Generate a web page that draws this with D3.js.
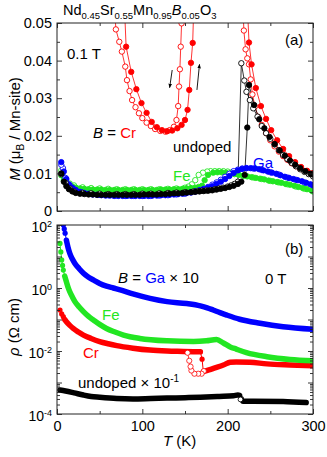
<!DOCTYPE html>
<html>
<head>
<meta charset="utf-8">
<script src="https://cdn.jsdelivr.net/npm/d3@7/dist/d3.min.js"></script>
<style>
body{margin:0;background:#fff;}
svg text{font-family:"Liberation Sans",Arial,Helvetica,sans-serif;}
</style>
</head>
<body>
<div id="canvas"></div>
<script>
var RED = '#ff0000', GREEN = '#22e622', BLUE = '#0000ff', BLACK = '#000000';

// ---- panel (a): M (muB / Mn-site) vs T (K) at 0.1 T, rows are [T, M]
// values at 0.06 mean the curve runs off the top of the axis
var crCool = [[300,0.0096],[295,0.0101],[290,0.0106],[285,0.0112],[280,0.0119],[275,0.0127],[270,0.0136],
  [265,0.0146],[260,0.0158],[255,0.0172],[250,0.0188],[245,0.0207],[240,0.0229],[236,0.025],[232,0.0278],
  [229,0.031],[227,0.035],[225,0.039],[223,0.0406],[221,0.043],[219,0.048],[217,0.06],
  [147,0.06],[146,0.0499],[145,0.0437],[144,0.0377],[143,0.0331],[142,0.0279],[140,0.0242],[137,0.0224],
  [132,0.0215],[127,0.0211],[121,0.0213],[115,0.0218],[110,0.0226],[105,0.0235],[100,0.0247],[96,0.026],
  [92,0.0276],[88,0.0295],[85,0.0319],[82,0.0348],[80,0.0384],[76,0.0424],[73,0.045],[69,0.0483],[66,0.06]];
var crWarm = [[78,0.06],[81,0.0437],[87,0.037],[93,0.0324],[99,0.0287],[105,0.0261],[111,0.0237],[117,0.0223],
  [123,0.0215],[129,0.0212],[135,0.0214],[141,0.022],[146,0.0229],[150,0.0242],[153,0.0269],[155,0.0322],
  [157,0.0394],[159,0.0447],[161,0.06],
  [222,0.06],[225,0.0448],[228,0.039],[233,0.0327],[239,0.0279],[245,0.0245],[251,0.0215],[258,0.0188],
  [265,0.0165],[272,0.0146],[279,0.013],[286,0.0117],[293,0.0107],[300,0.0101]];
var undopedCool = [[300,0.0092],[295,0.0098],[290,0.0104],[285,0.0111],[280,0.0119],[275,0.0128],[270,0.0138],
  [265,0.0149],[260,0.0162],[255,0.0177],[250,0.0192],[245,0.0207],[240,0.0226],[235,0.0251],[230,0.0273],
  [226,0.0295],[222,0.0317],[219.5,0.0347],[216,0.0393],[212,0.0078],[208,0.0072],[204,0.0068],[200,0.0065],
  [195,0.0062],[190,0.006],[185,0.0058],[180,0.0056],[175,0.0055],[170,0.0054],[165,0.0053],[160,0.0052],
  [150,0.005],[140,0.0049],[130,0.0048],[120,0.0047],[110,0.0046],[100,0.0046],[90,0.0045],[80,0.0045],
  [70,0.0045],[60,0.0045],[50,0.0046],[40,0.0047],[30,0.0048],[20,0.0052],[15,0.006],[10,0.0075],[5,0.0098]];
var undopedWarm = [[5,0.01],[8,0.0078],[11,0.0066],[14,0.0058],[18,0.0052],[22,0.0048],[27,0.0046],[32,0.0045],
  [37,0.0044],[42,0.0044],[47,0.0043],[52,0.0043],[57,0.0043],[62,0.0043],[67,0.0043],[72,0.0043],[77,0.0043],
  [82,0.0043],[87,0.0043],[92,0.0043],[97,0.0043],[102,0.0044],[107,0.0044],[112,0.0044],[117,0.0044],
  [122,0.0045],[127,0.0045],[132,0.0046],[137,0.0047],[142,0.0047],[147,0.0048],[152,0.0049],[157,0.005],
  [162,0.0051],[167,0.0052],[172,0.0053],[177,0.0054],[182,0.0055],[187,0.0057],[192,0.0059],[197,0.0061],
  [202,0.0064],[207,0.0067],[212,0.0072],[216,0.0078],[220,0.0096],[223,0.0222],[225,0.0335],[231,0.0282],
  [237,0.0244],[243,0.022],[249,0.0197],[255,0.0178],[261,0.0161],[267,0.0147],[273,0.0134],[279,0.0123],
  [285,0.0114],[291,0.0106],[297,0.0099],[300,0.0097]];
var gaCool = [[300,0.0068],[290,0.0076],[280,0.0083],[270,0.0089],[260,0.0097],[250,0.0103],[240,0.0109],
  [230,0.0113],[222,0.0114],[217,0.0113],[212,0.011],[207,0.0106],[202,0.0099],[197,0.0091],[192,0.0083],
  [187,0.0076],[182,0.007],[177,0.0064],[172,0.0059],[167,0.0055],[162,0.0052],[157,0.0049],[150,0.0046],
  [140,0.0044],[130,0.0042],[120,0.0041],[110,0.004],[100,0.004],[90,0.004],[80,0.004],[70,0.0041],
  [60,0.0042],[50,0.0043],[40,0.0045],[30,0.0049],[20,0.0058],[15,0.0068],[10,0.0088],[7,0.0114],[5,0.0123]];
var gaWarm = [[5,0.013],[8,0.0105],[11,0.0085],[14,0.0071],[18,0.0062],[22,0.0056],[27,0.0051],[32,0.0048],
  [37,0.0046],[42,0.0044],[47,0.0043],[52,0.0042],[57,0.0041],[62,0.0041],[67,0.004],[72,0.004],[77,0.004],
  [82,0.004],[87,0.004],[92,0.004],[97,0.004],[102,0.004],[107,0.004],[112,0.0041],[117,0.0041],[122,0.0042],
  [127,0.0042],[132,0.0043],[137,0.0044],[142,0.0045],[147,0.0046],[152,0.0048],[157,0.005],[162,0.0052],
  [167,0.0055],[172,0.0058],[177,0.0062],[182,0.0066],[187,0.0072],[192,0.0078],[197,0.0085],[202,0.0093],
  [207,0.0101],[212,0.0108],[217,0.0112],[222,0.0114],[227,0.0114],[232,0.0113],[237,0.0111],[242,0.0108],
  [247,0.0105],[252,0.0102],[257,0.0099],[262,0.0095],[267,0.0091],[272,0.0088],[277,0.0085],[282,0.0082],
  [287,0.0079],[292,0.0075],[297,0.0071],[300,0.0069]];
var feCool = [[300,0.0052],[290,0.0059],[280,0.0065],[270,0.0071],[260,0.0076],[250,0.008],[240,0.0085],
  [230,0.0089],[220,0.0094],[212,0.0099],[205,0.0103],[200,0.0105],[195,0.0106],[190,0.0106],[185,0.0106],
  [180,0.0106],[176,0.0105],[171,0.0102],[166,0.0096],[162,0.0082],[158,0.0071],[154,0.0065],[150,0.0062],
  [140,0.006],[130,0.0059],[120,0.0058],[110,0.0058],[100,0.0058],[90,0.0058],[80,0.0058],[70,0.0058],
  [60,0.0059],[50,0.006],[40,0.0061],[30,0.0063],[20,0.0068],[15,0.0073],[10,0.0083],[5,0.0108]];
var feWarm = [[5,0.0095],[8,0.0082],[11,0.0074],[14,0.0069],[18,0.0065],[22,0.0062],[27,0.006],[32,0.0059],
  [37,0.0058],[42,0.0057],[47,0.0057],[52,0.0057],[57,0.0056],[62,0.0056],[67,0.0056],[72,0.0056],[77,0.0056],
  [82,0.0056],[87,0.0056],[92,0.0056],[97,0.0056],[102,0.0056],[107,0.0056],[112,0.0056],[117,0.0056],
  [122,0.0057],[127,0.0057],[132,0.0057],[137,0.0058],[142,0.0058],[147,0.0059],[152,0.006],[157,0.0061],
  [162,0.0062],[166,0.0064],[170,0.0067],[173,0.0082],[177,0.0096],[183,0.0102],[188,0.0103],[193,0.0103],
  [198,0.0102],[203,0.01],[208,0.0098],[213,0.0096],[218,0.0094],[223,0.0092],[228,0.009],[233,0.0088],
  [238,0.0086],[243,0.0084],[248,0.0081],[253,0.0079],[258,0.0077],[263,0.0075],[268,0.0072],[273,0.007],
  [278,0.0067],[283,0.0064],[288,0.0061],[293,0.0058],[298,0.0055],[300,0.0053]];
// hysteresis arrows, [T, M] start and end
var arrowCool = [[135,0.0375],[132,0.0328]];
var arrowWarm = [[164,0.0322],[167,0.0390]];

// ---- panel (b): rho (Ohm cm) vs T (K) at 0 T, rows are [T, rho] as plotted
var gaRho = [[7.5,100],[8.5,75],[9.5,55],[11,33],[13,19],[15,12.6],[18,8.3],[21,6.0],[26,4.1],[31,2.95],[37,2.2],
  [43,1.78],[50,1.4],[58,1.15],[66,1.0],[74,0.87],[89,0.65],[109,0.47],[129,0.37],[152,0.32],[168,0.27],
  [176,0.235],[183,0.2],[191,0.165],[199,0.138],[214,0.102],[238,0.076],[265,0.059],[300,0.049]];
var feRho = [[3.5,26],[4.5,14],[5.5,7.8],[6.5,5.2],[7.4,3.7],[9,2.4],[11,1.58],[13,1.05],[15,0.76],[18,0.52],
  [21,0.37],[26,0.25],[31,0.178],[37,0.125],[43,0.095],[50,0.07],[58,0.052],[68,0.04],[78,0.032],[97,0.025],
  [129,0.021],[160,0.02],[175,0.021],[187,0.023],[195,0.018],[203,0.0135],[210,0.0115],[222,0.0089],
  [246,0.0066],[273,0.0054],[300,0.0049]];
var crRho = [[3.5,0.2],[5.5,0.15],[7.4,0.123],[9,0.1],[11,0.085],[15,0.065],[19,0.052],[25,0.04],[31,0.032],
  [40,0.025],[50,0.02],[60,0.017],[70,0.0148],[89,0.0123],[109,0.0107],[129,0.01],[148,0.0097],[160,0.0095],
  [168,0.0094],[170,0.0055],[171.5,0.0022],[178,0.0025],[185,0.0029],[195,0.0036],[203,0.0044],[210,0.0045],
  [226,0.0044],[246,0.0039],[273,0.0036],[300,0.0034]];
var crRhoCool = [[172,0.0023],[169.5,0.0019],[165.5,0.0019],[161,0.0019],[157.5,0.0024],[156.5,0.0032],
  [155,0.0049],[153,0.0088]];
var undopedRho = [[3.5,0.00058],[10,0.00054],[20,0.00047],[31,0.0004],[40,0.00036],[50,0.00034],[70,0.00031],
  [89,0.0003],[110,0.00031],[129,0.00032],[150,0.00033],[168,0.00034],[190,0.00036],[207,0.00038],
  [212,0.0004],[214,0.00039],[216,0.00031],[218,0.000255],[230,0.000255],[265,0.000248],[292,0.00023]];
var undopedRhoOpen = [[215,0.00029]];

var tempTicks = [0,100,200,300], tempMinor = [50,150,250];
var mTicks = [0,0.01,0.02,0.03,0.04,0.05], mMinor = [0.005,0.015,0.025,0.035,0.045];
var rhoDecades = [-4,-3,-2,-1,0,1,2], rhoLabelled = [-4,-2,0,2];

var W = 327, H = 457;
var svg = d3.select('#canvas').append('svg').attr('width',W).attr('height',H);

var x = d3.scaleLinear().domain([0,300]).range([57,313]);
var yA = d3.scaleLinear().domain([0,0.05]).range([211,23]);
var yB = d3.scaleLog().domain([1e-4,1e2]).range([414,225]);

var rhoMinor = [];
rhoDecades.slice(0,-1).forEach(function(e){
  for (var k = 2; k < 10; k++) rhoMinor.push(k*Math.pow(10,e));
});

function blank(){ return ''; }

function styleAxis(g){
  g.attr('font-family',null).attr('font-size',14.5);
  g.select('.domain').remove();
  g.selectAll('.tick line').attr('stroke','#222').attr('stroke-width',0.9);
  g.selectAll('.tick text').attr('fill','#000');
}

function frame(y, majorY, minorY, fmtY, showX){
  var top = y.range()[1], bottom = y.range()[0];
  var g = svg.append('g');
  g.append('g').attr('transform','translate(0,'+bottom+')')
    .call(d3.axisBottom(x).tickValues(tempTicks).tickSizeInner(-5).tickSizeOuter(0).tickPadding(6.5)
      .tickFormat(showX ? d3.format('d') : blank)).call(styleAxis);
  g.append('g').attr('transform','translate(0,'+bottom+')')
    .call(d3.axisBottom(x).tickValues(tempMinor).tickSizeInner(-3).tickSizeOuter(0).tickFormat(blank)).call(styleAxis);
  g.append('g').attr('transform','translate(0,'+top+')')
    .call(d3.axisTop(x).tickValues(tempTicks).tickSizeInner(-5).tickSizeOuter(0).tickFormat(blank)).call(styleAxis);
  g.append('g').attr('transform','translate(0,'+top+')')
    .call(d3.axisTop(x).tickValues(tempMinor).tickSizeInner(-3).tickSizeOuter(0).tickFormat(blank)).call(styleAxis);
  g.append('g').attr('transform','translate(57,0)')
    .call(d3.axisLeft(y).tickValues(majorY).tickSizeInner(-5).tickSizeOuter(0).tickPadding(5).tickFormat(fmtY)).call(styleAxis);
  g.append('g').attr('transform','translate(57,0)')
    .call(d3.axisLeft(y).tickValues(minorY).tickSizeInner(-3).tickSizeOuter(0).tickFormat(blank)).call(styleAxis);
  g.append('g').attr('transform','translate(313,0)')
    .call(d3.axisRight(y).tickValues(majorY).tickSizeInner(-5).tickSizeOuter(0).tickFormat(blank)).call(styleAxis);
  g.append('g').attr('transform','translate(313,0)')
    .call(d3.axisRight(y).tickValues(minorY).tickSizeInner(-3).tickSizeOuter(0).tickFormat(blank)).call(styleAxis);
  svg.append('rect').attr('x',57).attr('y',top).attr('width',313-57).attr('height',bottom-top)
    .attr('fill','none').attr('stroke','#222').attr('stroke-width',1);
  return g;
}

// ---- panel (a)
svg.append('clipPath').attr('id','clipA').append('rect')
  .attr('x',57).attr('y',23).attr('width',256).attr('height',188);
var pa = svg.append('g').attr('clip-path','url(#clipA)');
var lineA = d3.line().x(function(d){return x(d[0]);}).y(function(d){return yA(d[1]);});

var seriesA = [
  {data: feCool, color: GREEN, open: true},
  {data: feWarm, color: GREEN, open: false},
  {data: gaCool, color: BLUE, open: true},
  {data: gaWarm, color: BLUE, open: false},
  {data: crCool, color: RED, open: true},
  {data: crWarm, color: RED, open: false},
  {data: undopedCool, color: BLACK, open: true},
  {data: undopedWarm, color: BLACK, open: false}
];
seriesA.forEach(function(s){
  pa.append('path').attr('d', lineA(s.data)).attr('fill','none')
    .attr('stroke', s.color).attr('stroke-width',0.8);
});
seriesA.forEach(function(s){
  pa.append('g').selectAll('circle')
    .data(s.data.filter(function(d){ return d[1] <= 0.05; }))
    .enter().append('circle')
    .attr('cx', function(d){ return x(d[0]); })
    .attr('cy', function(d){ return yA(d[1]); })
    .attr('r', 2.7)
    .attr('fill', s.open ? '#fff' : s.color)
    .attr('stroke', s.color).attr('stroke-width',0.9);
});

svg.append('defs').append('marker').attr('id','arr').attr('viewBox','0 0 10 10')
  .attr('refX',9).attr('refY',5).attr('markerWidth',5).attr('markerHeight',6).attr('orient','auto')
  .append('path').attr('d','M0,1 L10,5 L0,9 Z').attr('fill','#000');
[arrowCool, arrowWarm].forEach(function(a){
  svg.append('line').attr('x1',x(a[0][0])).attr('y1',yA(a[0][1]))
    .attr('x2',x(a[1][0])).attr('y2',yA(a[1][1]))
    .attr('stroke','#000').attr('stroke-width',0.9).attr('marker-end','url(#arr)');
});

frame(yA, mTicks, mMinor, function(d){ return d === 0 ? '0' : d3.format('.2f')(d); }, false);

// ---- panel (b)
svg.append('clipPath').attr('id','clipB').append('rect')
  .attr('x',57).attr('y',225).attr('width',256).attr('height',189);
var pb = svg.append('g').attr('clip-path','url(#clipB)');
var lineB = d3.line().x(function(d){return x(d[0]);}).y(function(d){return yB(d[1]);});
var bandB = d3.line().x(function(d){return x(d[0]);}).y(function(d){return yB(d[1]);})
  .curve(d3.curveMonotoneX);

var seriesB = [
  {data: undopedRho, color: BLACK, bands: [[3,214],[218,300]]},
  {data: crRho, color: RED, bands: [[9,168],[171.5,300]]},
  {data: feRho, color: GREEN, bands: [[9,300]]},
  {data: gaRho, color: BLUE, bands: [[10,300]]}
];
seriesB.forEach(function(s){
  pb.append('path').attr('d', lineB(s.data)).attr('fill','none')
    .attr('stroke', s.color).attr('stroke-width',1);
  s.bands.forEach(function(b){
    var part = s.data.filter(function(d){ return d[0] >= b[0] && d[0] <= b[1]; });
    pb.append('path').attr('d', bandB(part)).attr('fill','none')
      .attr('stroke', s.color).attr('stroke-width',5.5)
      .attr('stroke-linejoin','round').attr('stroke-linecap','round');
  });
  pb.append('g').selectAll('circle')
    .data(s.data.filter(function(d){
      return !s.bands.some(function(b){ return d[0] >= b[0] && d[0] <= b[1]; });
    }))
    .enter().append('circle')
    .attr('cx', function(d){ return x(d[0]); })
    .attr('cy', function(d){ return yB(d[1]); })
    .attr('r', 2.6).attr('fill', s.color);
});
pb.append('path').attr('d', lineB(crRhoCool)).attr('fill','none').attr('stroke',RED).attr('stroke-width',0.8);
pb.append('g').selectAll('circle').data(crRhoCool).enter().append('circle')
  .attr('cx', function(d){ return x(d[0]); }).attr('cy', function(d){ return yB(d[1]); })
  .attr('r', 2.6).attr('fill','#fff').attr('stroke',RED).attr('stroke-width',0.8);
pb.append('g').selectAll('circle').data(undopedRhoOpen).enter().append('circle')
  .attr('cx', function(d){ return x(d[0]); }).attr('cy', function(d){ return yB(d[1]); })
  .attr('r', 2.4).attr('fill','#fff').attr('stroke',BLACK).attr('stroke-width',0.8);

frame(yB, rhoDecades.map(function(e){ return Math.pow(10,e); }), rhoMinor, blank, true);
// superscript labels for the log axis
rhoLabelled.forEach(function(e){
  var t = svg.append('text').attr('x',52).attr('y',yB(Math.pow(10,e)) + 6.5)
    .attr('text-anchor','end').attr('font-size',14);
  t.append('tspan').text('10');
  t.append('tspan').attr('dy',-4.5).attr('font-size',9).text(String(e));
});

// ---- text
function label(px, py, parts, opts){
  opts = opts || {};
  var t = svg.append('text').attr('x',px).attr('y',py).attr('font-size',opts.size || 15);
  if (opts.rotate) t.attr('transform','rotate(-90,'+px+','+py+')').attr('text-anchor','middle');
  var shift = 0;
  parts.forEach(function(p){
    var s = t.append('tspan').text(p.t);
    var want = p.sub ? 4 : (p.sup ? -6 : 0);
    if (want !== shift) { s.attr('dy', want - shift); shift = want; }
    if (p.sub || p.sup) s.attr('font-size', opts.small || 10);
    if (p.c) s.attr('fill', p.c);
    if (p.i) s.attr('font-style','italic');
  });
  return t;
}

label(63, 15, [{t:'Nd'},{t:'0.45',sub:1},{t:'Sr'},{t:'0.55',sub:1},{t:'Mn'},{t:'0.95',sub:1},
  {t:'B',i:1},{t:'0.05',sub:1},{t:'O'},{t:'3',sub:1}], {size:14.5, small:9.5});
label(20, 129, [{t:'M',i:1},{t:' (\u03bc'},{t:'B',sub:1},{t:' / Mn-site)'}], {rotate:true, size:15});
label(19, 327, [{t:'\u03c1',i:1},{t:' (\u03a9 cm)'}], {rotate:true, size:15});
label(163, 446, [{t:'T',i:1},{t:' (K)'}], {size:15});

label(285, 45, [{t:'(a)'}]);
label(67, 59, [{t:'0.1 T'}]);
label(93, 138, [{t:'B',i:1},{t:' = '},{t:'Cr',c:RED}]);
label(173, 152, [{t:'undoped'}]);
label(253, 168, [{t:'Ga',c:BLUE}]);
label(173, 181, [{t:'Fe',c:GREEN}]);

label(285, 254, [{t:'(b)'}]);
label(118, 283, [{t:'B',i:1},{t:' = '},{t:'Ga',c:BLUE},{t:' \u00d7 10'}]);
label(265, 284, [{t:'0 T'}]);
label(102, 320, [{t:'Fe',c:GREEN}]);
label(83, 358, [{t:'Cr',c:RED}]);
label(78, 388, [{t:'undoped \u00d7 10'},{t:'-1',sup:1}]);
</script>
</body>
</html>
